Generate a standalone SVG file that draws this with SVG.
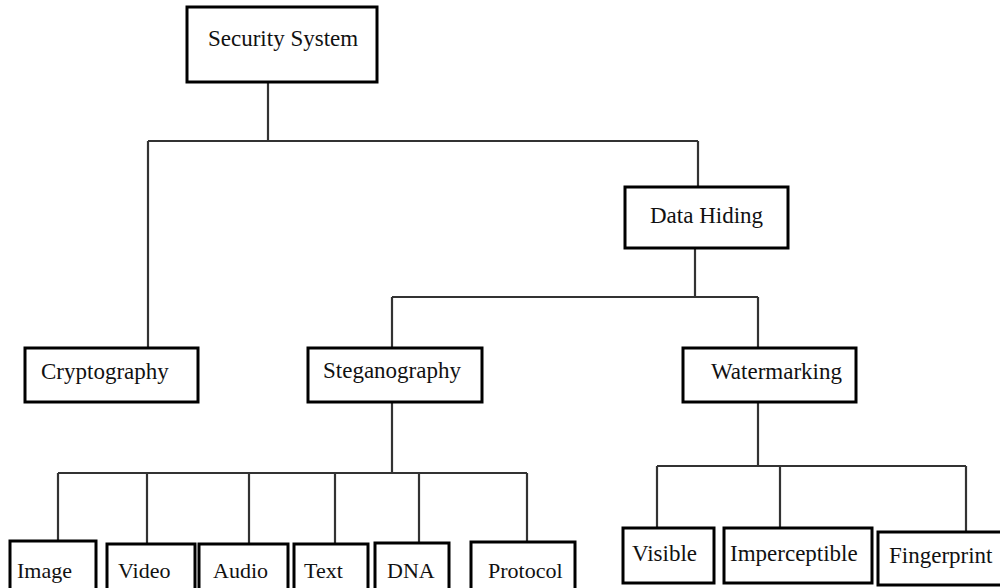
<svg xmlns="http://www.w3.org/2000/svg" width="1000" height="588" viewBox="0 0 1000 588">
<style>
.box{fill:#fff;stroke:#000;stroke-width:3}
.lbl{font-family:"Liberation Serif","Times New Roman",serif;font-size:23px;fill:#111}
.sm{font-size:22px}
.con{fill:none;stroke:#333;stroke-width:2.2}
</style>
<rect width="1000" height="588" fill="#fff"/>
<g id="connectors">
<path class="con" d="M268 82V141M148 141H698M148 141V348M698 141V187"/>
<path class="con" d="M695 248V297M392 297H758M392 297V348M758 297V348"/>
<path class="con" d="M392 402V473M58 473H527M58 473V541M147 473V544M249 473V544M335 473V544M419 473V543M527 473V542"/>
<path class="con" d="M758 402V466M657 466H966M657 466V528M780 466V528M966 466V532"/>
</g>
<g id="security-system"><rect class="box" x="187" y="7" width="190" height="75"/><text class="lbl" x="208" y="46">Security System</text></g>
<g id="data-hiding"><rect class="box" x="625" y="187" width="163" height="61"/><text class="lbl" x="650" y="223">Data Hiding</text></g>
<g id="cryptography"><rect class="box" x="25" y="348" width="173" height="54"/><text class="lbl" x="41" y="379">Cryptography</text></g>
<g id="steganography"><rect class="box" x="308" y="348" width="174" height="54"/><text class="lbl" x="323" y="378">Steganography</text></g>
<g id="watermarking"><rect class="box" x="683" y="348" width="173" height="54"/><text class="lbl" x="711" y="379">Watermarking</text></g>
<g id="image"><rect class="box" x="10" y="541" width="86" height="60"/><text class="lbl sm" x="17" y="578">Image</text></g>
<g id="video"><rect class="box" x="107" y="544" width="88" height="60"/><text class="lbl sm" x="118" y="578">Video</text></g>
<g id="audio"><rect class="box" x="199" y="544" width="89" height="60"/><text class="lbl sm" x="213" y="578">Audio</text></g>
<g id="text"><rect class="box" x="294" y="544" width="74" height="60"/><text class="lbl sm" x="304" y="578">Text</text></g>
<g id="dna"><rect class="box" x="375" y="543" width="74" height="60"/><text class="lbl sm" x="387" y="578">DNA</text></g>
<g id="protocol"><rect class="box" x="471" y="542" width="104" height="60"/><text class="lbl sm" x="488" y="578">Protocol</text></g>
<g id="visible"><rect class="box" x="623" y="528" width="91" height="55"/><text class="lbl" x="632" y="561">Visible</text></g>
<g id="imperceptible"><rect class="box" x="724" y="528" width="148" height="55"/><text class="lbl" x="730" y="561">Imperceptible</text></g>
<g id="fingerprint"><rect class="box" x="878" y="532" width="130" height="53"/><text class="lbl" x="889" y="563">Fingerprint</text></g>
</svg>
